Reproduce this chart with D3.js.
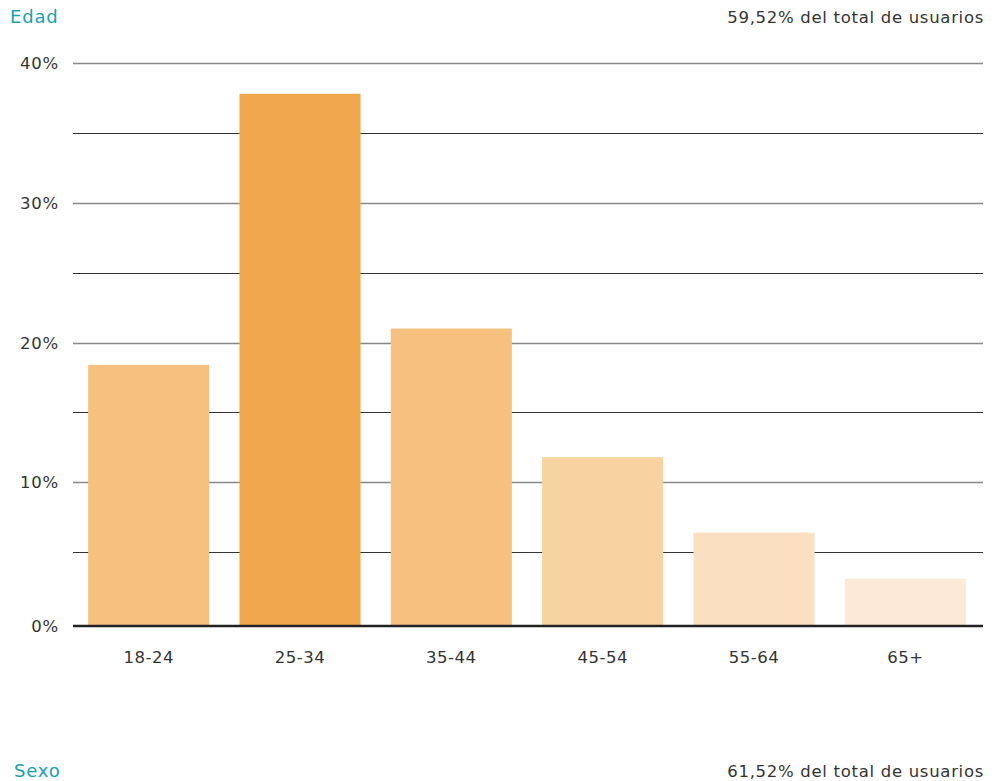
<!DOCTYPE html>
<html>
<head>
<meta charset="utf-8">
<script src="https://cdn.jsdelivr.net/npm/d3@7"></script>
<style>
html,body{margin:0;padding:0;background:#fff;}
svg{display:block;font-family:"DejaVu Sans",sans-serif;}
</style>
</head>
<body>
<svg id="chart" width="995" height="781"></svg>
<script>
const categories = ["18-24","25-34","35-44","45-54","55-64","65+"];
const values = [18.4, 37.8, 21.0, 11.8, 6.4, 3.1];
const barColors = ["#F6C17F","#F1A84C","#F6C17F","#F8D3A2","#FADFC0","#FCEAD7"];
const majorTicks = [0,10,20,30,40];
const minorTicks = [5,15,25,35];
const titleTop = "Edad";
const noteTop = "59,52% del total de usuarios";
const titleBottom = "Sexo";
const noteBottom = "61,52% del total de usuarios";

const svg = d3.select("#chart");
const x0 = 73, x1 = 983, baseY = 626;
const y = d3.scaleLinear().domain([0,40]).range([622,63]);
const x = d3.scaleBand().domain(categories).range([73,981]).paddingInner(0.2).paddingOuter(0.1);

// minor grid
svg.append("g").selectAll("line").data(minorTicks).join("line")
  .attr("x1",x0).attr("x2",x1)
  .attr("y1",d=>Math.round(y(d))+0.5).attr("y2",d=>Math.round(y(d))+0.5)
  .attr("stroke","#333").attr("stroke-width",1);
// major grid
svg.append("g").selectAll("line").data(majorTicks.filter(d=>d>0)).join("line")
  .attr("x1",x0).attr("x2",x1)
  .attr("y1",d=>Math.round(y(d))+0.5).attr("y2",d=>Math.round(y(d))+0.5)
  .attr("stroke","#888").attr("stroke-width",1.6);

// bars
svg.append("g").selectAll("rect").data(categories).join("rect")
  .attr("x",d=>x(d)).attr("width",x.bandwidth())
  .attr("y",(d,i)=>y(values[i])).attr("height",(d,i)=>baseY-y(values[i]))
  .attr("fill",(d,i)=>barColors[i]);

// baseline
svg.append("line").attr("x1",x0).attr("x2",x1).attr("y1",baseY).attr("y2",baseY)
  .attr("stroke","#222").attr("stroke-width",2.5);

// y labels
svg.append("g").selectAll("text").data(majorTicks).join("text")
  .attr("x",59).attr("y",d=>(d===0?baseY:y(d))+6)
  .attr("text-anchor","end").attr("font-size",16.5).attr("letter-spacing",0.8).attr("fill","#333")
  .text(d=>d+"%");

// x labels
svg.append("g").selectAll("text").data(categories).join("text")
  .attr("x",d=>x(d)+x.bandwidth()/2).attr("y",663)
  .attr("text-anchor","middle").attr("font-size",16.5).attr("letter-spacing",0.5).attr("fill","#333")
  .text(d=>d);

// titles
svg.append("text").attr("x",10).attr("y",23).attr("font-size",18).attr("letter-spacing",0.8).attr("fill","#17A2AE").text(titleTop);
svg.append("text").attr("x",984).attr("y",23).attr("text-anchor","end").attr("font-size",16.5).attr("letter-spacing",0.7).attr("fill","#333").text(noteTop);
svg.append("text").attr("x",14).attr("y",777).attr("font-size",18).attr("letter-spacing",0.8).attr("fill","#17A2AE").text(titleBottom);
svg.append("text").attr("x",984).attr("y",777).attr("text-anchor","end").attr("font-size",16.5).attr("letter-spacing",0.7).attr("fill","#333").text(noteBottom);
</script>
</body>
</html>
